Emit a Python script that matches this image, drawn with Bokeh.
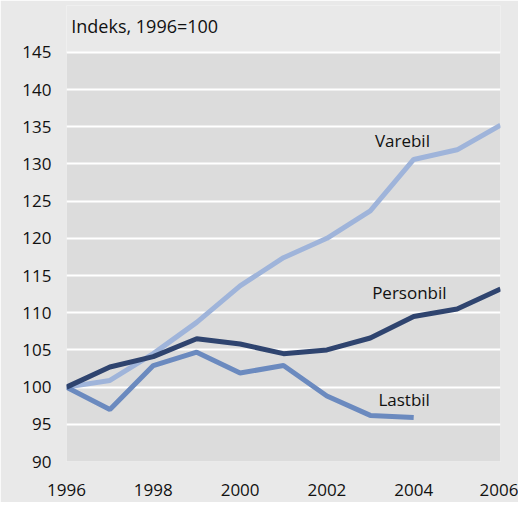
from bokeh.plotting import figure
from bokeh.models import FixedTicker, Label
from bokeh.embed import file_html
from bokeh.resources import INLINE

years = [1996, 1997, 1998, 1999, 2000, 2001, 2002, 2003, 2004, 2005, 2006]
varebil = [100, 100.9, 104.5, 108.7, 113.6, 117.4, 120.0, 123.7, 130.6, 131.9, 135.2]
personbil = [100, 102.7, 104.1, 106.5, 105.8, 104.5, 105.0, 106.6, 109.5, 110.5, 113.2]
lastbil_years = [1996, 1997, 1998, 1999, 2000, 2001, 2002, 2003, 2004]
lastbil = [100, 97.0, 102.9, 104.7, 101.9, 102.9, 98.8, 96.2, 95.9]
x_ticks = [1996, 1998, 2000, 2002, 2004, 2006]
y_ticks = [90, 95, 100, 105, 110, 115, 120, 125, 130, 135, 140, 145]
series_labels = ["Varebil", "Personbil", "Lastbil"]
label_x = [2003.74, 2003.9, 2003.78]
label_y = [133.1, 112.75, 98.4]
unit_label = "Indeks, 1996=100"

FONT = "Open Sans"
Y_MIN, Y_MAX = y_ticks[0], y_ticks[-1]

p = figure(width=518, height=502, x_range=(years[0], years[-1]), y_range=(Y_MIN, 151.3),
           output_backend="svg", toolbar_location=None,
           min_border_left=66, min_border_right=18, min_border_top=5, min_border_bottom=41)
p.background_fill_color = "#e9e9e9"
p.border_fill_color = "#e9e9e9"
p.outline_line_color = None

p.quad(left=[years[0]], right=[years[-1]], bottom=[Y_MIN], top=[Y_MAX],
       fill_color="#dcdcdc", line_color=None, level="image")

p.add_layout(Label(x=1996.11, y=148.6, text=unit_label, text_font=FONT,
                   text_font_size="18px", text_align="left", text_baseline="middle",
                   text_color="#111111"))

p.xgrid.grid_line_color = None
p.ygrid.grid_line_color = "white"
p.ygrid.grid_line_width = 2
p.yaxis.ticker = FixedTicker(ticks=y_ticks)
p.xaxis.ticker = FixedTicker(ticks=x_ticks)
for ax in (p.xaxis, p.yaxis):
    ax.axis_line_color = None
    ax.major_tick_line_color = None
    ax.minor_tick_line_color = None
    ax.major_label_text_font = FONT
    ax.major_label_text_font_size = "17px"
    ax.major_label_text_color = "#111111"
p.xaxis.major_label_standoff = 16
p.yaxis.major_label_standoff = 9

p.line(years, varebil, line_color="#9fb4da", line_width=5)
p.line(lastbil_years, lastbil, line_color="#6b8abf", line_width=5)
p.line(years, personbil, line_color="#2f446f", line_width=5)

for txt, x, y in zip(series_labels, label_x, label_y):
    p.add_layout(Label(x=x, y=y, text=txt, text_font=FONT, text_font_size="17px",
                       text_align="center", text_baseline="middle", text_color="#111111"))

open("out.html", "w").write(file_html(p, INLINE))
